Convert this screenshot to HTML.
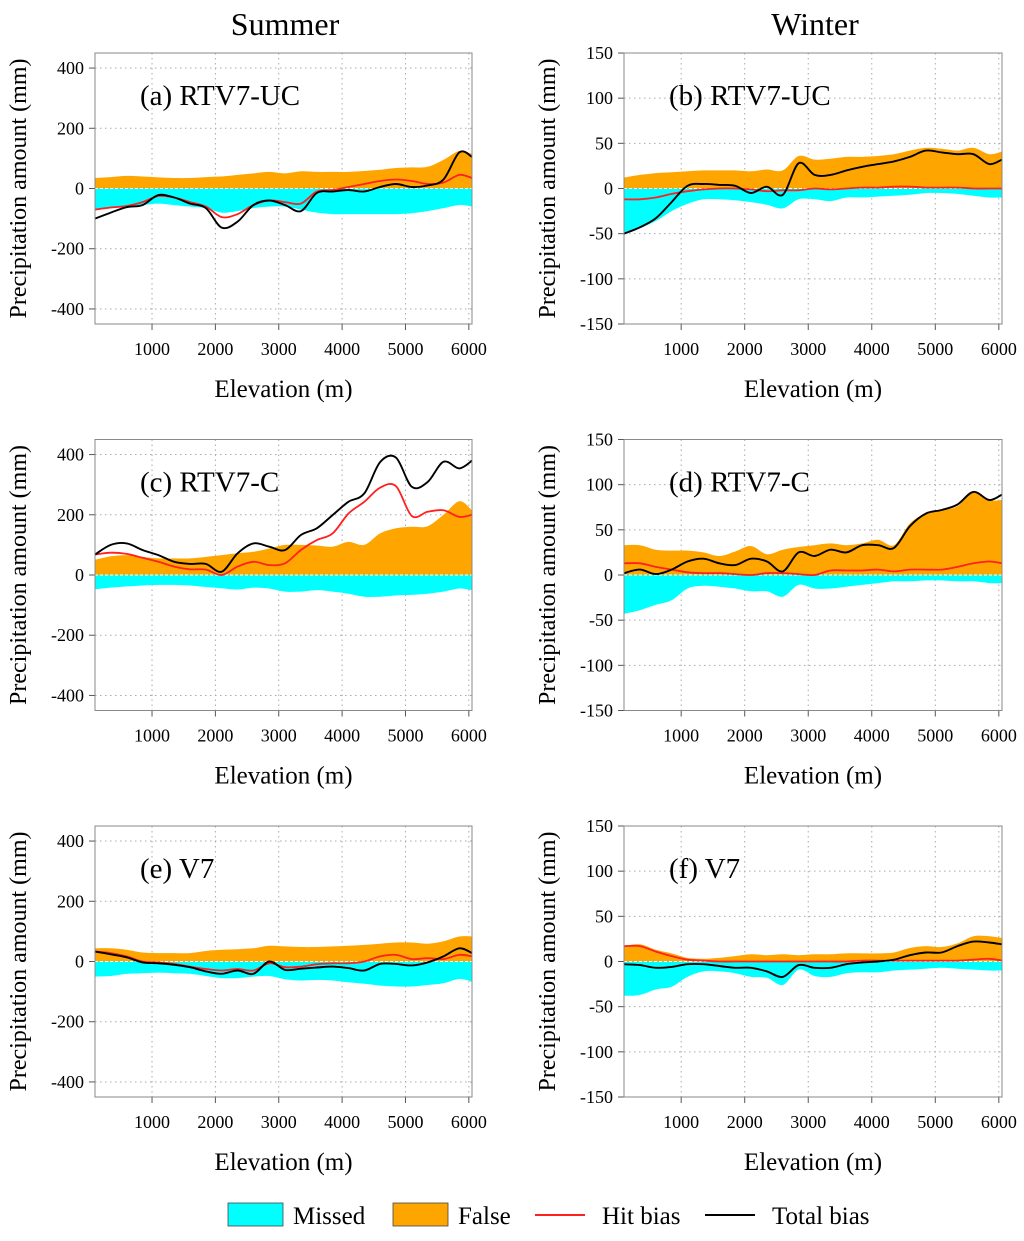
<!DOCTYPE html>
<html><head><meta charset="utf-8"><style>
body{margin:0;background:#fff;width:1024px;height:1236px;overflow:hidden;font-family:"Liberation Serif",serif;}
svg text{font-family:"Liberation Serif",serif;}
</style></head><body>
<svg id="fig" width="1024" height="1236" viewBox="0 0 1024 1236" xmlns="http://www.w3.org/2000/svg">
<text x="285" y="35" font-size="32" text-anchor="middle">Summer</text>
<text x="815" y="35" font-size="32" text-anchor="middle">Winter</text>
<g>
<rect x="228" y="1203" width="55" height="23" fill="#00ffff" stroke="#444" stroke-width="0.8"/>
<text x="293" y="1224" font-size="25">Missed</text>
<rect x="393" y="1203" width="55" height="23" fill="#ffa500" stroke="#444" stroke-width="0.8"/>
<text x="458" y="1224" font-size="25">False</text>
<line x1="535" y1="1215" x2="585" y2="1215" stroke="#ff2020" stroke-width="2"/>
<text x="602" y="1224" font-size="25">Hit bias</text>
<line x1="705" y1="1215" x2="755" y2="1215" stroke="#000" stroke-width="2"/>
<text x="772" y="1224" font-size="25">Total bias</text>
</g>
</svg>
<script>
const elevations=[100,350,600,850,1100,1350,1600,1850,2100,2350,2600,2850,3100,3350,3600,3850,4100,4350,4600,4850,5100,5350,5600,5850,6050];
const xTicks=[1000,2000,3000,4000,5000,6000];
const summerTicks=[400,200,0,-200,-400];
const winterTicks=[150,100,50,0,-50,-100,-150];
const panelLabels=["(a) RTV7-UC","(b) RTV7-UC","(c) RTV7-C","(d) RTV7-C","(e) V7","(f) V7"];
const falseA=[35,38,42,40,37,35,35,38,40,45,50,55,50,57,55,55,55,58,62,68,70,72,95,125,115];
const missedA=[-70,-65,-60,-55,-50,-55,-60,-65,-80,-75,-65,-60,-60,-70,-80,-85,-85,-85,-85,-85,-82,-75,-65,-55,-60];
const hitA=[-70,-63,-58,-45,-25,-30,-45,-60,-95,-85,-55,-40,-45,-50,-10,-5,5,15,25,30,25,15,20,45,35];
const totalA=[-100,-80,-62,-55,-22,-30,-50,-65,-130,-110,-55,-40,-55,-75,-15,-10,-5,-10,5,15,5,10,30,120,105];
const falseB=[12,15,17,18,19,20,20,20,19,21,20,36,32,33,35,35,36,38,42,45,44,42,45,38,41];
const missedB=[-50,-44,-36,-25,-17,-12,-12,-13,-15,-18,-22,-12,-12,-14,-10,-10,-9,-8,-7,-5,-5,-6,-8,-10,-10];
const hitB=[-12,-12,-10,-6,-3,-1,0,0,-1,-3,-2,-2,0,-1,0,1,1,2,2,1,1,1,0,0,0];
const totalB=[-50,-43,-33,-15,3,5,4,3,-5,2,-7,28,15,15,20,24,27,30,35,42,40,38,38,27,32];
const falseC=[50,62,66,60,55,55,55,60,66,72,77,88,100,100,98,94,110,100,138,155,160,162,200,245,215];
const missedC=[-47,-42,-38,-35,-33,-33,-35,-40,-44,-48,-42,-45,-55,-55,-50,-55,-62,-72,-72,-68,-66,-62,-55,-45,-50];
const hitC=[68,74,70,57,44,28,19,18,0,28,44,33,39,83,116,138,204,243,290,295,196,210,215,193,200];
const totalC=[68,100,105,83,66,44,37,37,11,72,105,94,83,133,155,199,243,271,375,390,293,309,376,354,380];
const falseD=[33,33,28,27,27,25,21,26,32,23,28,31,33,35,33,35,39,33,57,68,72,76,92,83,83];
const missedD=[-43,-39,-33,-28,-15,-12,-13,-15,-18,-18,-24,-11,-15,-15,-13,-11,-9,-7,-7,-6,-6,-7,-7,-9,-9];
const hitD=[13,13,9,6,3,2,2,1,0,2,2,1,0,5,5,5,6,4,6,6,6,9,13,15,13];
const totalD=[2,6,1,6,15,18,13,11,18,15,4,25,21,28,25,33,33,30,54,68,72,78,92,83,89];
const falseE=[44,44,39,30,28,28,28,35,39,41,44,52,50,48,48,50,52,55,59,63,63,59,67,83,83];
const missedE=[-50,-48,-41,-39,-37,-39,-41,-48,-55,-55,-50,-48,-59,-63,-61,-63,-69,-74,-80,-83,-83,-78,-72,-58,-67];
const hitE=[33,28,17,0,-3,-8,-17,-25,-30,-25,-30,-6,-19,-17,-9,-6,-6,0,17,22,8,11,8,22,17];
const totalE=[33,24,14,-3,-6,-11,-19,-33,-41,-30,-41,0,-28,-24,-20,-17,-22,-30,-8,-8,-13,-3,17,44,28];
const falseF=[17,19,13,9,4,3,4,6,8,7,8,7,8,8,9,9,9,10,15,17,16,20,28,28,26];
const missedF=[-38,-37,-31,-28,-17,-11,-11,-13,-17,-18,-26,-9,-16,-17,-13,-12,-12,-10,-9,-8,-7,-8,-9,-10,-10];
const hitF=[17,17,11,6,2,1,0,0,0,0,0,0,0,0,0,1,1,1,1,1,1,1,2,3,1];
const totalF=[-3,-4,-7,-6,-3,-3,-5,-7,-7,-11,-17,-4,-7,-7,-3,-1,0,2,7,10,10,17,22,21,19];

const NS="http://www.w3.org/2000/svg";
const svg=document.getElementById('fig');
function mk(tag,attrs,parent){const e=document.createElementNS(NS,tag);for(const k in attrs)e.setAttribute(k,attrs[k]);(parent||svg).appendChild(e);return e;}
function smooth(pts){let d="M"+pts[0][0].toFixed(1)+","+pts[0][1].toFixed(1);
 for(let i=0;i<pts.length-1;i++){const p0=pts[Math.max(0,i-1)],p1=pts[i],p2=pts[i+1],p3=pts[Math.min(pts.length-1,i+2)];
  const c1=[p1[0]+(p2[0]-p0[0])/6,p1[1]+(p2[1]-p0[1])/6],c2=[p2[0]-(p3[0]-p1[0])/6,p2[1]-(p3[1]-p1[1])/6];
  d+=" C"+c1[0].toFixed(1)+","+c1[1].toFixed(1)+" "+c2[0].toFixed(1)+","+c2[1].toFixed(1)+" "+p2[0].toFixed(1)+","+p2[1].toFixed(1);}
 return d;}
const panels=[
 {l:0,r:0,lim:450,ticks:summerTicks,f:falseA,m:missedA,h:hitA,t:totalA,n:'a'},
 {l:1,r:0,lim:150,ticks:winterTicks,f:falseB,m:missedB,h:hitB,t:totalB,n:'b'},
 {l:0,r:1,lim:450,ticks:summerTicks,f:falseC,m:missedC,h:hitC,t:totalC,n:'c'},
 {l:1,r:1,lim:150,ticks:winterTicks,f:falseD,m:missedD,h:hitD,t:totalD,n:'d'},
 {l:0,r:2,lim:450,ticks:summerTicks,f:falseE,m:missedE,h:hitE,t:totalE,n:'e'},
 {l:1,r:2,lim:150,ticks:winterTicks,f:falseF,m:missedF,h:hitF,t:totalF,n:'f'}];
panels.forEach((p,i)=>{
 const L=p.l?624:95,R=p.l?1002:472,T=53+p.r*386.5,B=T+271,Z=(T+B)/2;
 const xs=e=>L+(e-100)/(6050-100)*(R-L);
 const ys=v=>Z-v/p.lim*(B-T)/2;
 const g=mk('g',{});
 
 
 xTicks.forEach(t=>{const ln=mk('line',{x1:xs(t),x2:xs(t),y1:T,y2:B,stroke:'#aaa','stroke-width':1,'stroke-dasharray':'1.5,3.5'},g);
  
  const tk=mk('line',{x1:xs(t),x2:xs(t),y1:B,y2:B+6,stroke:'#555'},g);
  
  const tx=mk('text',{x:xs(t),y:B+31,'font-size':18,'text-anchor':'middle'},g);tx.textContent=t;
  });
 p.ticks.forEach(t=>{const ln=mk('line',{x1:L,x2:R,y1:ys(t),y2:ys(t),stroke:'#aaa','stroke-width':1,'stroke-dasharray':'1.5,3.5'},g);
  
  const tk=mk('line',{x1:L-6,x2:L,y1:ys(t),y2:ys(t),stroke:'#555'},g);
  
  const tx=mk('text',{x:L-11,y:ys(t)+6,'font-size':18,'text-anchor':'end'},g);tx.textContent=t;
  });
 const z=ys(0),x0=xs(elevations[0]),x1=xs(elevations[elevations.length-1]);
 const fp=elevations.map((e,k)=>[xs(e),ys(p.f[k])]);
 const fa=mk('path',{d:smooth(fp)+" L"+x1+","+z+" L"+x0+","+z+" Z",fill:'#ffa500'},g);
 
 const mp=elevations.map((e,k)=>[xs(e),ys(p.m[k])]);
 const ma=mk('path',{d:smooth(mp)+" L"+x1+","+z+" L"+x0+","+z+" Z",fill:'#00ffff'},g);
 
 const zl=mk('line',{x1:x0,x2:x1,y1:z,y2:z,stroke:'#fff','stroke-width':1,'stroke-dasharray':'3,2'},g);
 
 const hl=mk('path',{d:smooth(elevations.map((e,k)=>[xs(e),ys(p.h[k])])),fill:'none',stroke:'#ff2020','stroke-width':1.8},g);
 
 const tl=mk('path',{d:smooth(elevations.map((e,k)=>[xs(e),ys(p.t[k])])),fill:'none',stroke:'#000','stroke-width':1.9},g);
 
 const fr=mk('rect',{x:L,y:T,width:R-L,height:B-T,fill:'none',stroke:'#888','stroke-width':1},g);
 
 const lb=mk('text',{x:L+45,y:T+52,'font-size':29},g);lb.textContent=panelLabels[i];
 
 const yt=mk('text',{x:0,y:0,'font-size':24,'text-anchor':'middle',transform:'translate('+(L-69)+','+Z+') rotate(-90)'},g);yt.textContent='Precipitation amount (mm)';
 
 const xt=mk('text',{x:(L+R)/2,y:B+73,'font-size':25,'text-anchor':'middle'},g);xt.textContent='Elevation (m)';
 
});
</script>
</body></html>
